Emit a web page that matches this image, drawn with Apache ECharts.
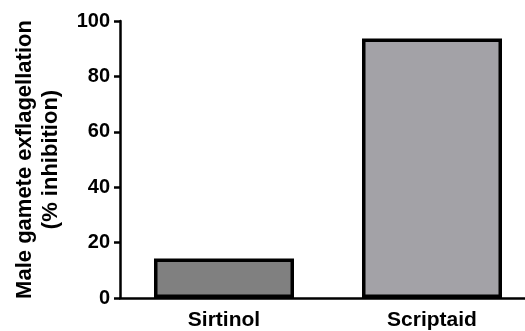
<!DOCTYPE html>
<html>
<head>
<meta charset="utf-8">
<script src="https://cdn.jsdelivr.net/npm/echarts@6/dist/echarts.min.js"></script>
<style>html,body{margin:0;padding:0;background:#fff;overflow:hidden;width:525px;height:331px;}#c{width:540px;height:331px;}</style>
</head>
<body>
<div id="c"></div>
<script>
const categories = ['Sirtinol', 'Scriptaid'];
const values = [14.3, 93.7];
const barColors = ['#808080', '#a3a2a7'];
const yTicks = [0, 20, 40, 60, 80, 100];
const yTitle = 'Male gamete exflagellation\n(% inhibition)';

const chart = echarts.init(document.getElementById('c'), null, {renderer: 'canvas'});
const font = 'Liberation Sans, Arial, sans-serif';
chart.setOption({
  animation: false,
  backgroundColor: '#fff',
  grid: {left: 120, top: 21, right: 4, bottom: 32.5, containLabel: false},
  xAxis: {
    type: 'category',
    data: categories,
    axisLine: {lineStyle: {color: '#000', width: 2.5}},
    axisTick: {alignWithLabel: true, length: 6, lineStyle: {color: '#000', width: 2.5}},
    axisLabel: {color: '#000', fontFamily: font, fontWeight: 'bold', fontSize: 21, margin: 12}
  },
  yAxis: {
    type: 'value',
    min: yTicks[0], max: yTicks[yTicks.length - 1], interval: 20,
    name: yTitle,
    nameLocation: 'middle',
    nameGap: 56,
    nameRotate: 90,
    nameTextStyle: {color: '#000', fontFamily: font, fontWeight: 'bold', fontSize: 22, lineHeight: 26},
    axisLine: {show: true, lineStyle: {color: '#000', width: 2.5}},
    axisTick: {show: true, length: 6, lineStyle: {color: '#000', width: 2.5}},
    axisLabel: {color: '#000', fontFamily: font, fontWeight: 'bold', fontSize: 20, margin: 10},
    splitLine: {show: false}
  },
  series: [{
    type: 'bar',
    barWidth: 140,
    data: values.map((v, i) => ({value: v, itemStyle: {color: barColors[i]}})),
    itemStyle: {borderColor: '#000', borderWidth: 3.5}
  }]
});
</script>
</body>
</html>
